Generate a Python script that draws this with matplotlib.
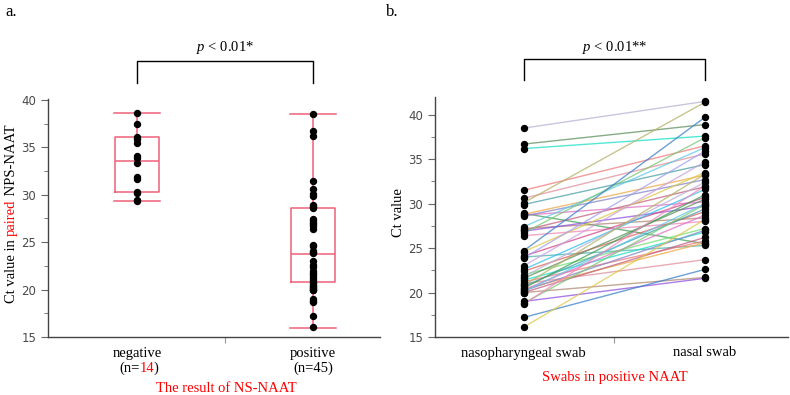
import matplotlib
matplotlib.use("Agg")
import matplotlib.pyplot as plt
import matplotlib.transforms as mtransforms
from matplotlib.ticker import MultipleLocator

#Fuente serif para la p en cursiva
plt.rcParams["mathtext.fontset"] = "custom"
plt.rcParams["mathtext.it"] = "Liberation Serif:italic"
plt.rcParams["mathtext.rm"] = "Liberation Serif"

# Datos: Ct del NPS-NAAT pareado, segun resultado del NS-NAAT
neg_ct = [38.6, 37.5, 36.1, 35.9, 35.5, 34.1, 33.9, 33.4, 31.9, 31.7, 30.3, 30.2, 29.5, 29.3]
# estadisticos de las cajas
neg_stats = dict(med=33.6, q1=30.3, q3=36.1, whislo=29.3, whishi=38.6)
pos_stats = dict(med=23.8, q1=20.8, q3=28.6, whislo=15.9, whishi=38.5)

# pares (nasofaringeo, nasal) de los 45 positivos
nps_ct = [38.5, 36.7, 36.2, 31.5, 30.6, 30.1, 29.9, 28.9, 28.8, 28.7,
          28.6, 27.4, 27.2, 27.0, 26.9, 26.7, 26.4, 24.7, 24.6, 24.1,
          24.0, 23.9, 23.0, 22.6, 22.4, 22.0, 21.8, 21.6, 21.4, 21.2,
          21.0, 20.8, 20.7, 20.5, 20.4, 20.3, 20.2, 20.1, 20.0, 20.0,
          19.0, 18.8, 18.7, 17.2, 16.1]
nasal_ct = [41.5, 38.9, 37.6, 36.5, 35.6, 41.4, 34.4, 25.5, 33.2, 30.2,
            32.7, 36.3, 28.4, 31.9, 29.7, 37.4, 28.0, 39.7, 33.5, 30.7,
            25.3, 35.9, 34.7, 31.6, 29.1, 27.2, 32.4, 30.5, 26.8, 25.8,
            23.7, 33.3, 29.4, 31.0, 25.6, 28.7, 27.0, 30.0, 21.7, 26.2,
            21.6, 29.9, 32.0, 22.6, 28.2]

cat_left = ["negative", "positive"]
n_left = ["14", "45"]
cat_right = ["nasopharyngeal swab", "nasal swab"]

line_colors = ["#b9b2d2", "#5f8f5f", "#18e0c8", "#f07a7a", "#e0909a", "#b5b26a",
               "#4aa0a8", "#3f9f5a", "#f0a848", "#e070c8", "#8585c8", "#60c8e8",
               "#b08a70", "#c06080", "#9050e0", "#78c878", "#f088b8", "#3a80c8",
               "#e0c848", "#d04888", "#50b0b0", "#a0a0f0", "#c8a0e0", "#30c0f0",
               "#e06060", "#70e070"]

rojo = "#f0607a"
serif = "Liberation Serif"
fs = 10.5

fig = plt.figure(figsize=(7.9, 3.95), dpi=100)
ax1 = fig.add_axes([48/790, 1-337/395, (380-48)/790, (337-99)/395])
ax2 = fig.add_axes([435/790, 1-337/395, (788-435)/790, (337-97)/395])

#Panel a: cajas con puntos
ax1.bxp([neg_stats, pos_stats], positions=[0, 1], widths=0.25, showfliers=False,
        boxprops=dict(color=rojo, lw=1.1), medianprops=dict(color=rojo, lw=1.1),
        whiskerprops=dict(color=rojo, lw=1.1), capprops=dict(color=rojo, lw=1.1),
        capwidths=0.26)
ax1.plot([0]*len(neg_ct), neg_ct, "o", color="black", ms=4.3, zorder=3)
ax1.plot([1]*len(nps_ct), nps_ct, "o", color="black", ms=4.3, zorder=3)
ax1.set_xlim(-0.506, 1.38)
ax1.set_ylim(15, 40.1)

#Panel b: lineas pareadas
for i in range(len(nps_ct)):
    ax2.plot([0, 1], [nps_ct[i], nasal_ct[i]], color=line_colors[i % len(line_colors)],
             lw=1.0, alpha=0.75, zorder=2)
ax2.plot([0]*len(nps_ct), nps_ct, "o", color="black", ms=4.3, zorder=3)
ax2.plot([1]*len(nasal_ct), nasal_ct, "o", color="black", ms=4.3, zorder=3)
ax2.set_xlim(-0.49, 1.46)
ax2.set_ylim(15, 42.0)

for ax in (ax1, ax2):
    for s in ("top", "right"):
        ax.spines[s].set_visible(False)
    for s in ("left", "bottom"):
        ax.spines[s].set_color("#444444")
        ax.spines[s].set_linewidth(1.0)
    ax.yaxis.set_major_locator(MultipleLocator(5))
    ax.yaxis.set_minor_locator(MultipleLocator(2.5))
    ax.tick_params(axis="y", which="major", length=5, color="#666666",
                   labelsize=8.5, labelcolor="#4a4a4a")
    ax.tick_params(axis="y", which="minor", length=3, color="#666666")
    ax.set_xticks([0.5])
    ax.set_xticklabels([""])
    ax.tick_params(axis="x", length=4, color="#999999")

#Texto en varias partes de color, cada parte pegada a la anterior
def encadenar(x, y, partes, rotation=0):
    va = "bottom" if rotation else "center"
    t = fig.text(x, y, partes[0][0], color=partes[0][1], family=serif, fontsize=fs,
                 rotation=rotation, ha="left", va=va)
    for txt, col in partes[1:]:
        xy = (0, 1) if rotation else (1, 0.5)
        t = ax1.annotate(txt, xy=xy, xycoords=t, color=col, family=serif, fontsize=fs,
                         rotation=rotation, annotation_clip=False, ha="left", va=va)

#Textos del eje x
tr1 = mtransforms.blended_transform_factory(ax1.transData, fig.transFigure)
tr2 = mtransforms.blended_transform_factory(ax2.transData, fig.transFigure)
for i in range(2):
    ax1.text(i, 1-353/395, cat_left[i], transform=tr1, ha="center", va="center",
             family=serif, fontsize=fs)
    ax2.text(i, 1-353/395, cat_right[i], transform=tr2, ha="center", va="center",
             family=serif, fontsize=fs)

#(n=..) con el 14 en rojo
encadenar(119/790, 1-368/395, [("(n=", "black"), (n_left[0], "red"), (")", "black")])
ax1.text(1, 1-368/395, "(n=" + n_left[1] + ")", transform=tr1, ha="center", va="center",
         family=serif, fontsize=fs)
fig.text(226/790, 1-388/395, "The result of NS-NAAT", color="red", ha="center",
         va="center", family=serif, fontsize=fs)
fig.text(615/790, 1-378/395, "Swabs in positive NAAT", color="red", ha="center",
         va="center", family=serif, fontsize=fs)

#Etiqueta y izquierda con "paired" en rojo
encadenar(5/790, 1-303/395, [("Ct value in ", "black"), ("paired", "red"),
                             (" NPS-NAAT", "black")], rotation=90)
fig.text(398/790, 1-213/395, "Ct value", rotation=90, ha="center", va="center",
         family=serif, fontsize=fs)

#Corchetes de significancia
for ax, ytop, ybot, ytxt, txt in ((ax1, 61, 83, 47, "0.01*"), (ax2, 59, 80, 47, "0.01**")):
    tr = mtransforms.blended_transform_factory(ax.transData, fig.transFigure)
    ax.plot([0, 0, 1, 1], [1-ybot/395, 1-ytop/395, 1-ytop/395, 1-ybot/395],
            color="black", lw=1.0, transform=tr, clip_on=False)
    ax.text(0.5, 1-ytxt/395, "$p$ < " + txt, transform=tr, ha="center",
            va="center", family=serif, fontsize=fs)

fig.text(5/790, 1-12/395, "a.", family=serif, fontsize=12, va="center")
fig.text(386/790, 1-12/395, "b.", family=serif, fontsize=12, va="center")

fig.savefig("out.png", dpi=100)
